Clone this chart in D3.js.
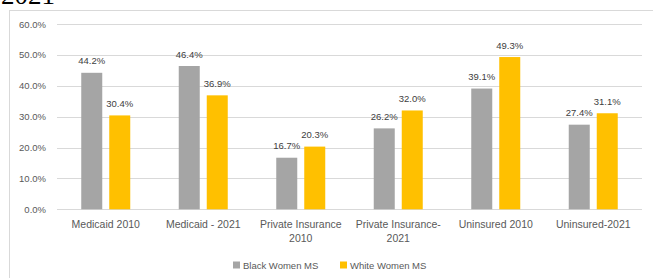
<!DOCTYPE html>
<html>
<head>
<meta charset="utf-8">
<script src="https://cdn.jsdelivr.net/npm/d3@7"></script>
<style>
  body { margin: 0; background: #fff; }
  svg { display: block; font-family: "Liberation Sans", Arial, sans-serif; }
</style>
</head>
<body>
<div id="vis"></div>
<script>
const categories = ["Medicaid 2010", "Medicaid - 2021", "Private Insurance 2010",
  "Private Insurance-2021", "Uninsured 2010", "Uninsured-2021"];
const seriesNames = ["Black Women MS", "White Women MS"];
const blackWomen = [44.2, 46.4, 16.7, 26.2, 39.1, 27.4];
const whiteWomen = [30.4, 36.9, 20.3, 32.0, 49.3, 31.1];
const yTicks = [0, 10, 20, 30, 40, 50, 60];
const colors = ["#a5a5a5", "#ffc000"];

const W = 653, H = 278;
const margin = {top: 24, right: 11, bottom: 68.7, left: 57};
const width = W - margin.left - margin.right;
const height = H - margin.top - margin.bottom;

const data = categories.map((c, i) => ({
  cat: c,
  values: [blackWomen[i], whiteWomen[i]]
}));

const root = d3.select('#vis')
  .append('svg')
    .attr('width', W)
    .attr('height', H);

// frame around the chart (cut by the page edges)
root.append('rect')
  .attr('x', 9.5).attr('y', 10.5)
  .attr('width', 660).attr('height', 300)
  .attr('fill', 'none')
  .attr('stroke', '#d9d9d9');

// title peeking in from above
root.append('text')
  .attr('x', 1).attr('y', 4)
  .style('font-family', '"Liberation Serif", "Times New Roman", serif')
  .style('font-size', '27px')
  .attr('fill', '#000')
  .text('2021');

const svg = root.append('g')
  .attr('transform', `translate(${margin.left},${margin.top})`);

const y = d3.scaleLinear()
  .domain([0, 60])
  .range([height, 0]);

const x0 = d3.scaleBand()
  .domain(categories)
  .range([0, width])
  .padding(0);

const groupW = 49;
const x1 = d3.scaleBand()
  .domain(seriesNames)
  .range([0, groupW])
  .paddingInner(0.25)
  .paddingOuter(0);

// gridlines
svg.append('g')
  .selectAll('line')
  .data(yTicks)
  .join('line')
    .attr('x1', 0).attr('x2', width)
    .attr('y1', d => Math.round(y(d)) + 0.5)
    .attr('y2', d => Math.round(y(d)) + 0.5)
    .attr('stroke', '#d9d9d9')
    .attr('stroke-width', 1.2);

// y axis labels
const yAxis = svg.append('g')
  .call(d3.axisLeft(y).tickValues(yTicks).tickSize(0).tickPadding(11)
    .tickFormat(d => d.toFixed(1) + '%'));
yAxis.select('.domain').remove();
yAxis.selectAll('text')
  .style('font-size', '9.5px')
  .attr('fill', '#595959');

// bars
const groups = svg.selectAll('g.grp')
  .data(data)
  .join('g')
    .attr('class', 'grp')
    .attr('transform', d => `translate(${x0(d.cat) + (x0.bandwidth() - groupW) / 2},0)`);

groups.selectAll('rect')
  .data(d => d.values.map((v, i) => ({s: seriesNames[i], v: v, i: i})))
  .join('rect')
    .attr('x', d => x1(d.s))
    .attr('y', d => y(d.v))
    .attr('width', x1.bandwidth())
    .attr('height', d => height - y(d.v))
    .attr('fill', d => colors[d.i]);

groups.selectAll('text')
  .data(d => d.values.map((v, i) => ({s: seriesNames[i], v: v, i: i})))
  .join('text')
    .attr('x', d => x1(d.s) + x1.bandwidth() / 2)
    .attr('y', d => y(d.v) - 8.5)
    .attr('text-anchor', 'middle')
    .style('font-size', '9.5px')
    .attr('fill', '#404040')
    .text(d => d.v.toFixed(1) + '%');

// x axis labels
const xAxis = svg.append('g')
  .attr('transform', `translate(0,${height})`)
  .call(d3.axisBottom(x0).tickSize(0).tickPadding(11));
xAxis.select('.domain').remove();
xAxis.selectAll('text')
  .style('font-size', '10.5px')
  .attr('fill', '#595959')
  .each(function(d) {
    const t = d3.select(this);
    const maxW = x0.bandwidth() * 0.95;
    const tokens = d.split(/(?<=\s)|(?<=-)(?=\S)/);
    const lines = [];
    let line = '';
    tokens.forEach(tok => {
      const test = line + tok;
      t.text(test.trim());
      if (this.getComputedTextLength() > maxW && line) {
        lines.push(line.trim());
        line = tok;
      } else {
        line = test;
      }
    });
    lines.push(line.trim());
    const yy = t.attr('y'), dy = t.attr('dy');
    t.text(null);
    lines.forEach((l, k) => {
      t.append('tspan')
        .attr('x', 0)
        .attr('y', yy)
        .attr('dy', k === 0 ? dy : (parseFloat(dy) + k * 1.35) + 'em')
        .text(l);
    });
  });

// legend
const legendX = [233, 340];
const legend = root.append('g')
  .selectAll('g')
  .data(seriesNames)
  .join('g')
    .attr('transform', (d, i) => `translate(${legendX[i]},261.5)`);
legend.append('rect')
  .attr('width', 7).attr('height', 7)
  .attr('fill', (d, i) => colors[i]);
legend.append('text')
  .attr('x', 10).attr('y', 7)
  .style('font-size', '9.5px')
  .attr('fill', '#595959')
  .text(d => d);
</script>
</body>
</html>
